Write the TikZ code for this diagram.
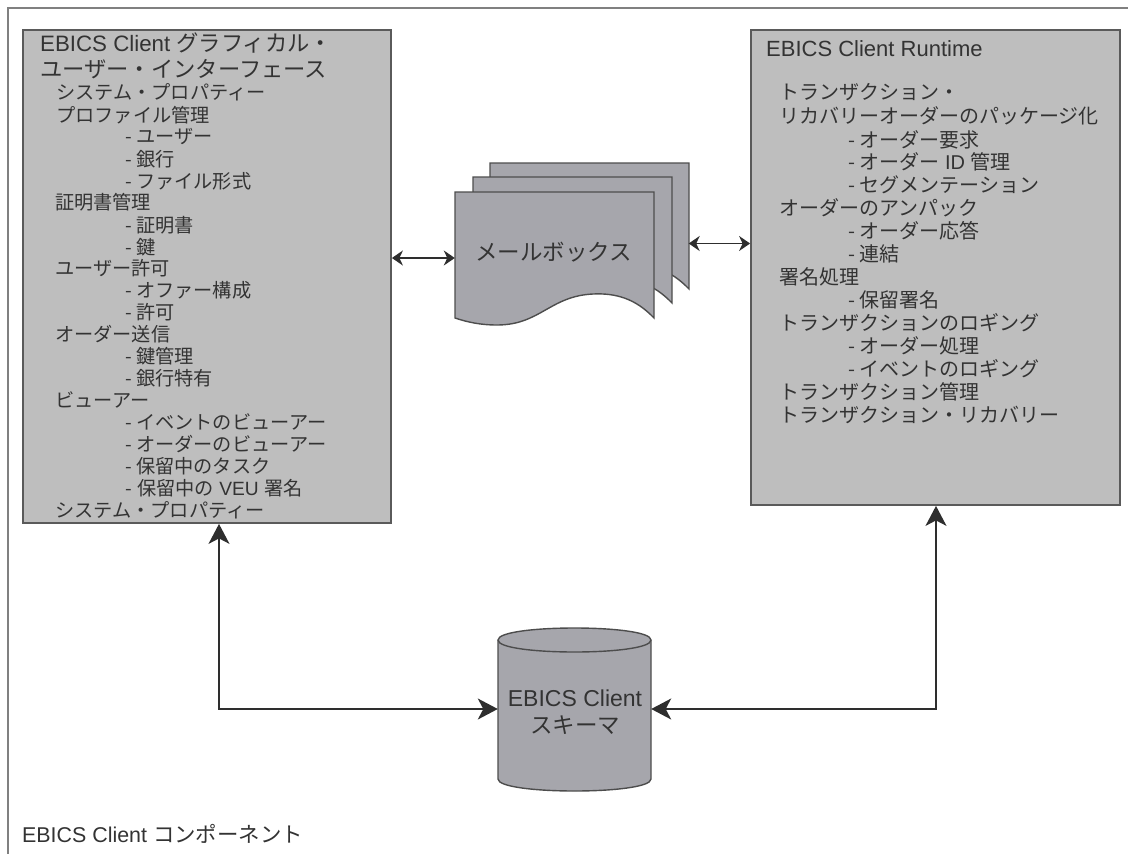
\documentclass[tikz,border=0pt]{standalone}
\usepackage{fontspec}
\setmainfont{Liberation Sans}
\newfontfamily\cjk{Noto Sans CJK JP}
\usetikzlibrary{arrows.meta}
\definecolor{boxfill}{HTML}{BEBEBE}
\definecolor{shapefill}{HTML}{A6A6AC}
\definecolor{boxedge}{HTML}{5A5A5A}
\definecolor{inkc}{HTML}{2E2E2E}
\definecolor{txtc}{HTML}{333333}
\definecolor{framec}{HTML}{808080}
\tikzset{
  panel/.style={draw=boxedge,line width=1.8pt,fill=boxfill,rectangle,inner sep=0pt},
  anchorbox/.style={rectangle,inner sep=0pt},
  sheet/.style={draw=inkc!85!white,line width=1.4pt,fill=shapefill,line join=miter},
  frameline/.style={draw=framec,line width=2.8pt},
  bigtext/.style={anchor=base west,inner sep=0pt,text=txtc,font=\fontsize{22.3}{24}\selectfont},
  itemtext/.style={anchor=base west,inner sep=0pt,text=txtc,font=\fontsize{19.2}{21}\selectfont},
  ritemtext/.style={anchor=base west,inner sep=0pt,text=txtc,font=\fontsize{20}{22}\selectfont},
  centertext/.style={anchor=base,inner sep=0pt,text=txtc,font=\fontsize{22.5}{24}\selectfont},
  bigarrow/.style={draw=inkc,line width=1.5pt,{Stealth[inset=5.5pt,length=20pt,width=21pt]}-{Stealth[inset=5.5pt,length=20pt,width=21pt]}},
  smallarrow/.style={draw=inkc,line width=1.5pt,{Stealth[inset=3.5pt,length=11pt,width=15pt]}-{Stealth[inset=3.5pt,length=11pt,width=15pt]}},
}
\newcommand{\wavesheet}[2]{%
  \path[sheet,shift={(#1,#2)}] (0,0) -- (199,0) -- (199,126)
    .. controls (180,106) and (160,101) .. (138,102) .. controls (95,104) and (85,133) .. (42,133)
    .. controls (25,133) and (12,130) .. (0,126) -- cycle;}
\begin{document}
\begin{tikzpicture}[x=1pt,y=-1pt]
\useasboundingbox (0,0) rectangle (1128,854);
% outer frame
\coordinate (frameBL) at (8,854);
\coordinate (frameTL) at (8,8);
\coordinate (frameTR) at (1128,8);
\draw[frameline] (frameBL) -- (frameTL) -- (frameTR);
% panels
\node[panel,minimum width=368pt,minimum height=493pt] (leftbox) at (207,276.5) {};
\node[panel,minimum width=369pt,minimum height=475pt] (rightbox) at (935.5,267.5) {};
% left text
\node[bigtext] (l1) at (40,51) {EBICS Client {\cjk グラフィカル・}};
\node[bigtext] (l2) at (40,77) {\cjk ユーザー・インターフェース};
\foreach \n/\x/\y/\t in {
  a/56/99/システム・プロパティー,
  b/56/122/プロファイル管理,
  c/125/143/- ユーザー,
  d/125/166/- 銀行,
  e/125/188/- ファイル形式,
  f/55/209/証明書管理,
  g/125/232/- 証明書,
  h/125/254/- 鍵,
  i/55/275/ユーザー許可,
  j/125/297/- オファー構成,
  k/125/319/- 許可,
  l/55/341/オーダー送信,
  m/125/363/- 鍵管理,
  n/125/385/- 銀行特有,
  o/55/407/ビューアー,
  p/125/429/- イベントのビューアー,
  q/125/451/- オーダーのビューアー,
  r/125/473/- 保留中のタスク,
  t/55/517/システム・プロパティー}
  {\node[itemtext] (left\n) at (\x,\y) {\cjk \t};}
\node[itemtext] (leftveu) at (125,495) {{\cjk -} {\cjk 保留中の} VEU {\cjk 署名}};
% right text
\node[bigtext,font=\fontsize{22}{24}\selectfont] (r1) at (766,56) {EBICS Client Runtime};
\foreach \n/\x/\y/\t in {
  a/779/99/トランザクション・,
  b/779/123/リカバリーオーダーのパッケージ化,
  c/848/147/- オーダー要求,
  e/848/192/- セグメンテーション,
  f/779/215/オーダーのアンパック,
  g/848/238/- オーダー応答,
  h/848/261/- 連結,
  i/779/284/署名処理,
  j/848/307/- 保留署名,
  k/779/330/トランザクションのロギング,
  l/848/353/- オーダー処理,
  m/848/376/- イベントのロギング,
  n/779/399/トランザクション管理,
  o/779/422/トランザクション・リカバリー}
  {\node[ritemtext] (right\n) at (\x,\y) {\cjk \t};}
\node[ritemtext] (rightid) at (848,169) {{\cjk - オーダー} ID {\cjk 管理}};
% mailbox sheets
\wavesheet{490}{163}
\wavesheet{473}{177}
\wavesheet{455}{192}
\node[anchorbox,minimum width=199pt,minimum height=132pt] (mailfront) at (554.5,258) {};
\node[anchorbox,minimum width=199pt,minimum height=160pt] (mailback) at (589,243.5) {};
\node[centertext] (mailtext) at (553.5,260) {\cjk メールボックス};
% database cylinder
\path[sheet] (498,640) -- (498,779) .. controls (498,795) and (651,795) .. (651,779) -- (651,640)
  .. controls (651,624) and (498,624) .. (498,640) -- cycle;
\draw[inkc!85!white,line width=1.4pt] (498,640) .. controls (498,656) and (651,656) .. (651,640);
\node[anchorbox,minimum width=153pt,minimum height=170pt] (db) at (574.5,709) {};
\node[centertext,font=\fontsize{23}{25}\selectfont] (dbtext1) at (575,706) {EBICS Client};
\node[centertext] (dbtext2) at (575,733) {\cjk スキーマ};
% bottom label
\node[bigtext,font=\fontsize{21.4}{23}\selectfont] (footer) at (22,842) {EBICS Client {\cjk コンポーネント}};
% connectors
\coordinate (lcorner) at (219,709);
\coordinate (rcorner) at (936,709);
\draw[bigarrow] (leftbox.south -| lcorner) -- (lcorner) -- (db.west);
\draw[bigarrow] (rightbox.south -| rcorner) -- (rcorner) -- (db.east);
\draw[smallarrow] (leftbox.east |- mailfront.west) -- (mailfront.west);
\draw[smallarrow] (mailback.east) -- (mailback.east -| rightbox.west);
\end{tikzpicture}
\end{document}
